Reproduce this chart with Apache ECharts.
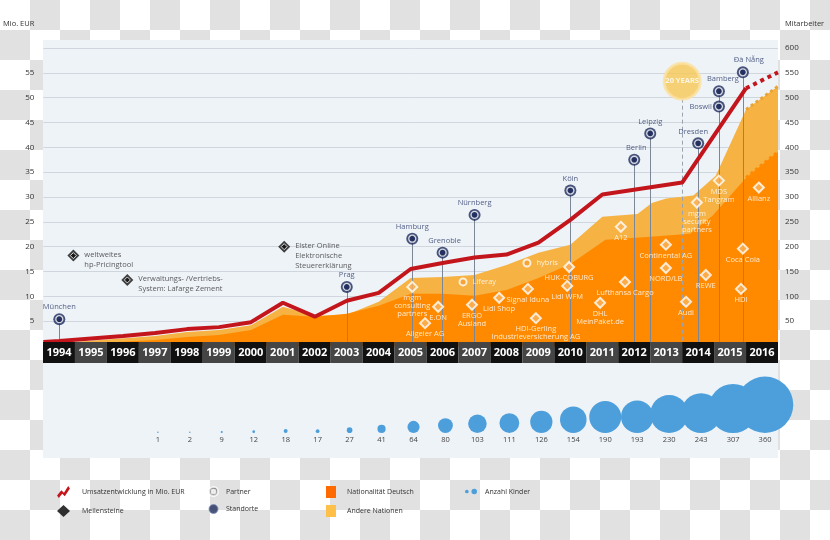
<!DOCTYPE html>
<html><head><meta charset="utf-8">
<script src="https://cdn.jsdelivr.net/npm/echarts@6/dist/echarts.min.js"></script>
<style>
html,body{margin:0;padding:0;}
body{width:830px;height:540px;background:repeating-conic-gradient(#e1e1e1 0 25%, #ffffff 0 50%) 0 0/60px 60px;}
#chart{width:830px;height:540px;}
</style></head><body><div id="chart"></div>
<script>
// ---- data ----
const years = ['1994','1995','1996','1997','1998','1999','2000','2001','2002','2003','2004','2005','2006','2007','2008','2009','2010','2011','2012','2013','2014','2015','2016'];

// Umsatz (Mio. EUR)
const umsatzX = [1993.5,1994,1995,1996,1997,1998,1999,2000,2001,2002,2003,2004,2005,2006,2007,2008,2009,2010,2011,2013.5,2015.5];
const umsatz  = [0.8,1.0,1.5,2.0,2.6,3.4,3.8,4.8,8.7,5.9,9.1,10.7,15.5,16.7,17.8,18.4,20.8,25.4,30.5,32.9,51.9];
const umsatzPrognoseX = [2015.5,2016.5];
const umsatzPrognose  = [51.9,55.1];

// Mitarbeiter gesamt (Deutsch + Andere Nationen)
const gesamtX = [1993.5,1994,1997,1998,1999,2000,2001,2002,2003,2004,2005,2006,2007,2008,2009,2010,2011,2012.1,2012.55,2013,2013.85,2014.55,2015.5];
const gesamt  = [4,6,20,28,32,42,79,61,63,89,137,139,143,163,188,204,260,266,288,297,303,343,476];
const gesamtPrognoseX = [2015.5,2016.5];
const gesamtPrognose  = [476,523];

// Mitarbeiter Nationalität Deutsch
const deutschX = [1993.5,1994,1997,1998,1999,2000,2001,2002,2003,2004,2005,2006,2007,2008,2009,2010,2011.1,2012.5,2013.75,2014.45,2015.5];
const deutsch  = [2,2,12,18,22,32,63,59,65,81,105,105,101,113,137,165,214,220,226,262,339];
const deutschPrognoseX = [2015.5,2016.5];
const deutschPrognose  = [339,391];

// Anzahl Kinder
const kinderJahre = [1997,1998,1999,2000,2001,2002,2003,2004,2005,2006,2007,2008,2009,2010,2011,2012,2013,2014,2015,2016];
const kinder = [1,2,9,12,18,17,27,41,64,80,103,111,126,154,190,193,230,243,307,360];

// Standorte [Name, Jahr, Höhe in Mio. EUR-Skala]
const standorte = [
  ['München',1994.0,5.4],['Prag',2003.0,11.9],['Hamburg',2005.05,21.6],['Grenoble',2006.0,18.8],
  ['Nürnberg',2007.0,26.4],['Köln',2010.0,31.3],['Berlin',2012.0,37.5],['Leipzig',2012.5,42.8],
  ['Dresden',2014.0,40.8],['Boswil',2014.65,48.2],['Bamberg',2014.65,51.3],['Đà Nẵng',2015.4,55.1]
];
// Meilensteine
const meilensteine = [
  ['weltweites\nhp-Pricingtool',1994.44,18.2],
  ['Verwaltungs- /Vertriebs-\nSystem: Lafarge Zement',1996.13,13.3],
  ['Elster Online\nElektronische\nSteuererklärung',2001.04,20.0]
];
// Kunden (Rauten)
const kunden = [
  ['mgm\nconsulting\npartners',2005.05,11.9],['E.ON',2005.86,7.9],['Allgeier AG',2005.45,4.6],
  ['ERGO\nAusland',2006.92,8.3],['Lidl Shop',2007.77,9.7],['Signal Iduna',2008.67,11.5],
  ['HDI-Gerling\nIndustrieversicherung AG',2008.92,5.6],['HUK-COBURG',2009.96,15.9],['Lidl WFM',2009.9,12.1],
  ['DHL\nMeinPaket.de',2010.93,8.7],['Lufthansa Cargo',2011.71,12.9],['A12',2011.58,24.0],
  ['Continental AG',2012.99,20.4],['NORD/LB',2012.99,15.7],['Audi',2013.62,8.9],
  ['mgm\nsecurity\npartners',2013.96,28.9],['REWE',2014.24,14.3],['MDS\nTangram',2014.65,33.3],
  ['HDI',2015.34,11.5],['Coca Cola',2015.4,19.6],['Allianz',2015.9,31.9]
];
// Partner (Kreise)
const partner = [['Liferay',2006.64,12.9],['hybris',2008.64,16.7]];
// Jubiläum
const jubilaeum = [['20 YEARS',2013.5,53.3]];

// ---- build ----
const pairs = (xs, ys) => xs.map((x,i)=>[x, ys[i]]);
const FONT = "'Open Sans', sans-serif";
const C = {red:'#c3161c', dark:'#ff8a00', light:'#f6b243', navy:'#1d2b5b', blue:'#4d9fdc'};

const labelOverrides = {
  'Boswil': {position:'left', distance:1},
  'Bamberg': {offset:[4,0]},
  'Đà Nẵng': {offset:[6,0]},
  'Dresden': {offset:[-5,0]},
  'Berlin': {offset:[2,0]},
  'Grenoble': {offset:[2,0]}
};

const chart = echarts.init(document.getElementById('chart'));
const option = {
  animation:false,
  textStyle:{fontFamily:FONT},
  graphic:[{type:'rect', z:-10, silent:true, shape:{x:43,y:40,width:735,height:418}, style:{fill:'#eef3f8'}}],
  grid:[
    {left:43, right:52, top:48, height:298},
    {left:43, right:52, top:342, height:21},
    {left:46, right:49, top:370, height:63}
  ],
  xAxis:[
    {gridIndex:0, type:'value', min:1993.5, max:2016.5, show:false},
    {gridIndex:1, type:'category', data:years, show:false},
    {gridIndex:2, type:'value', min:1993.5, max:2016.5, show:false}
  ],
  yAxis:[
    {gridIndex:0, type:'value', min:0, max:60, interval:5, position:'left',
     name:'Mio. EUR', nameLocation:'end', nameGap:24,
     nameTextStyle:{align:'right', verticalAlign:'middle', padding:[0,9,0,0], fontSize:7.5, color:'#333'},
     axisLine:{show:false}, axisTick:{show:false},
     axisLabel:{formatter:v=>(v===0||v===60)?'':v, margin:9, fontSize:8, color:'#333'},
     splitLine:{lineStyle:{color:'#cfd6de', width:1}}},
    {gridIndex:0, type:'value', min:0, max:600, interval:50, position:'right',
     name:'Mitarbeiter', nameLocation:'end', nameGap:24,
     nameTextStyle:{align:'left', verticalAlign:'middle', padding:[0,0,0,7], fontSize:7.5, color:'#333'},
     axisLine:{show:false}, axisTick:{show:false},
     axisLabel:{formatter:v=>v===0?'':v, margin:7, fontSize:8, color:'#333'},
     splitLine:{show:false}},
    {gridIndex:1, type:'value', min:0, max:1, show:false},
    {gridIndex:2, type:'value', min:0, max:1, show:false}
  ],
  legend:[
    {left:57, top:486, padding:0, orient:'vertical', itemGap:7, itemWidth:13, itemHeight:12, selectedMode:false,
     textStyle:{fontSize:7, color:'#333', padding:[0,0,0,7]},
     data:[{name:'Umsatzentwicklung in Mio. EUR', icon:'path://M0,11 L5,5 L8,8 L13,0 L15,3 L9,12 L6,9 L2,14 Z', itemStyle:{color:C.red}},
           {name:'Meilensteine', icon:'diamond', itemStyle:{color:'#000'}}]},
    {left:208, top:486, padding:0, orient:'vertical', itemGap:7, itemWidth:9, itemHeight:12, selectedMode:false,
     textStyle:{fontSize:7, color:'#333', padding:[0,0,0,3]},
     data:[{name:'Partner', icon:'path://M3,0a3,3 0 1,0 0.001,0ZM3,1.6a1.4,1.4 0 1,1 -0.001,0Z', itemStyle:{color:'#333'}},
           {name:'Standorte', icon:'circle', itemStyle:{color:C.navy, borderColor:'#8090b8', borderWidth:1}}]},
    {left:326, top:486, padding:0, orient:'vertical', itemGap:7, itemWidth:10, itemHeight:12, selectedMode:false,
     textStyle:{fontSize:7, color:'#333', padding:[0,0,0,6]},
     data:[{name:'Nationalität Deutsch', icon:'rect', itemStyle:{color:'#ff6a00'}},
           {name:'Andere Nationen', icon:'rect', itemStyle:{color:'#ffc04a'}}]},
    {left:465, top:488, padding:0, orient:'vertical', itemWidth:12, itemHeight:6, selectedMode:false,
     textStyle:{fontSize:7, color:'#333', padding:[0,0,0,3]},
     data:[{name:'Anzahl Kinder', icon:'path://M0,3a2,2 0 1,0 4,0a2,2 0 1,0 -4,0ZM7,3a3,3 0 1,0 6,0a3,3 0 1,0 -6,0Z', itemStyle:{color:C.blue}}]}
  ],
  series:[
    {name:'Andere Nationen', type:'line', xAxisIndex:0, yAxisIndex:1, z:2, symbol:'none',
     data:pairs(gesamtX.concat(gesamtPrognoseX.slice(1)), gesamt.concat(gesamtPrognose.slice(1))),
     lineStyle:{width:0}, itemStyle:{color:C.light}, areaStyle:{color:C.light, opacity:1}},
    {name:'Nationalität Deutsch', type:'line', xAxisIndex:0, yAxisIndex:1, z:3, symbol:'none',
     data:pairs(deutschX.concat(deutschPrognoseX.slice(1)), deutsch.concat(deutschPrognose.slice(1))),
     lineStyle:{width:0}, itemStyle:{color:C.dark}, areaStyle:{color:C.dark, opacity:1}},
    {name:'gesamtPrognose', type:'line', xAxisIndex:0, yAxisIndex:1, z:3, symbol:'none',
     data:pairs(gesamtPrognoseX, gesamtPrognose), lineStyle:{color:'#e9a437', width:3, type:[3,3]}},
    {name:'deutschPrognose', type:'line', xAxisIndex:0, yAxisIndex:1, z:4, symbol:'none',
     data:pairs(deutschPrognoseX, deutschPrognose), lineStyle:{color:C.dark, width:3, type:[3,3]}},
    {name:'Standortlinien', type:'lines', coordinateSystem:'cartesian2d', xAxisIndex:0, yAxisIndex:0, z:4, silent:true,
     data:standorte.map(s=>({coords:[[s[1],s[2]],[s[1],0]]})),
     lineStyle:{color:'#7d8694', width:1, opacity:1}},
    {name:'Jubiläumslinie', type:'lines', coordinateSystem:'cartesian2d', xAxisIndex:0, yAxisIndex:0, z:4, silent:true,
     data:jubilaeum.map(s=>({coords:[[s[1],s[2]-3.5],[s[1],0]]})),
     lineStyle:{color:'#9aa3ae', width:1, type:[4,3], opacity:1}},
    {name:'Umsatzentwicklung in Mio. EUR', type:'line', xAxisIndex:0, yAxisIndex:0, z:6, symbol:'none',
     data:pairs(umsatzX, umsatz), lineStyle:{color:C.red, width:4}, itemStyle:{color:C.red}},
    {name:'umsatzPrognose', type:'line', xAxisIndex:0, yAxisIndex:0, z:6, symbol:'none',
     data:pairs(umsatzPrognoseX, umsatzPrognose), lineStyle:{color:C.red, width:4, type:[4,4]}},
    {name:'Jubiläum', type:'scatter', xAxisIndex:0, yAxisIndex:0, z:7, symbol:'circle', symbolSize:36,
     data:jubilaeum.map(s=>({value:[s[1],s[2]], name:s[0]})),
     itemStyle:{color:'#f7c752', borderColor:'#fbe1a0', borderWidth:3},
     label:{show:true, position:'inside', formatter:'{b}', color:'#fff', fontWeight:'bold', fontSize:7.5}},
    {name:'Standorte', type:'scatter', xAxisIndex:0, yAxisIndex:0, z:8, symbol:'circle', symbolSize:12,
     data:standorte.map(s=>({value:[s[1],s[2]], name:s[0], label:labelOverrides[s[0]]||{}})),
     itemStyle:{color:C.navy},
     label:{show:true, position:'top', distance:2, formatter:'{b}', color:'#2b3866', fontSize:7.5}},
    {name:'StandorteInnen', type:'scatter', xAxisIndex:0, yAxisIndex:0, z:9, symbol:'circle', symbolSize:7, silent:true,
     data:standorte.map(s=>[s[1],s[2]]), itemStyle:{color:C.navy, borderColor:'#fff', borderWidth:1.3}},
    {name:'Meilensteine', type:'scatter', xAxisIndex:0, yAxisIndex:0, z:8, symbol:'diamond', symbolSize:12,
     data:meilensteine.map(s=>{const n=s[0].split('\n').length; return {value:[s[1],s[2]], name:s[0], label:{offset:[0,(n-1)*5-1]}};}),
     itemStyle:{color:'#111'},
     label:{show:true, position:'right', distance:5, formatter:'{b}', color:'#333', fontSize:7.5, lineHeight:10}},
    {name:'MeilensteineInnen', type:'scatter', xAxisIndex:0, yAxisIndex:0, z:9, symbol:'diamond', symbolSize:6, silent:true,
     data:meilensteine.map(s=>[s[1],s[2]]), itemStyle:{color:'#111', borderColor:'#fff', borderWidth:1}},
    {name:'Kunden', type:'scatter', xAxisIndex:0, yAxisIndex:0, z:8, symbol:'diamond', symbolSize:10,
     data:kunden.map(s=>({value:[s[1],s[2]], name:s[0]})),
     itemStyle:{color:'#fbb35a', borderColor:'#fff', borderWidth:2},
     label:{show:true, position:'bottom', distance:1, formatter:'{b}', color:'#fff', fontSize:7.5, lineHeight:8}},
    {name:'Partner', type:'scatter', xAxisIndex:0, yAxisIndex:0, z:8, symbol:'circle', symbolSize:7,
     data:partner.map(s=>({value:[s[1],s[2]], name:s[0]})),
     itemStyle:{color:'#f7a035', borderColor:'#fff', borderWidth:2},
     label:{show:true, position:'right', distance:5, formatter:'{b}', color:'#fff', fontSize:7.5}},
    {name:'Jahre', type:'bar', xAxisIndex:1, yAxisIndex:2, z:10, barWidth:'100%', silent:true,
     data:years.map((y,i)=>({value:1, itemStyle:{color: i%2 ? '#454545' : '#111111'}})),
     label:{show:true, position:'inside', formatter:p=>years[p.dataIndex], color:'#fff', fontWeight:'bold', fontSize:11}},
    {name:'Anzahl Kinder', type:'scatter', xAxisIndex:2, yAxisIndex:3, z:5, clip:false, symbol:'circle',
     data:kinderJahre.map((j,i)=>{const s=Math.max(1.5, 0.3*Math.pow(kinder[i],0.89)); return {value:[j,0,kinder[i]], symbolSize:s, symbolOffset:[0,-s/2]};}),
     itemStyle:{color:C.blue, opacity:1},
     label:{show:true, position:'bottom', distance:3, formatter:p=>p.value[2], color:'#444', fontSize:7.5}}
  ]
};
chart.setOption(option);
</script></body></html>
